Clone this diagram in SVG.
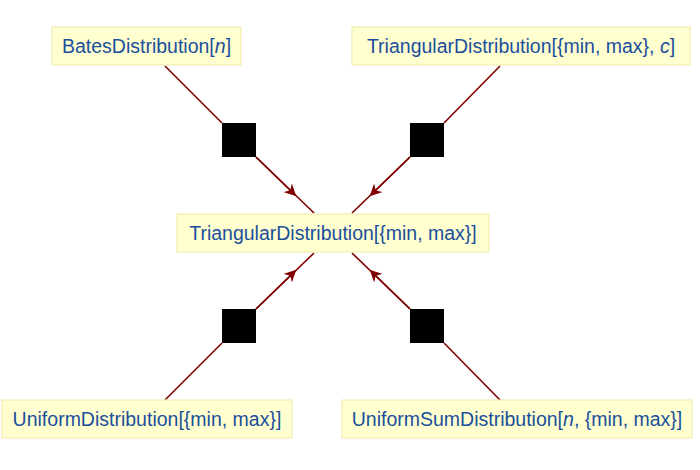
<svg xmlns="http://www.w3.org/2000/svg" width="700" height="470" viewBox="0 0 700 470">
<defs>
<style>
.box{fill:#ffffd0;stroke:#f0e8a8;stroke-width:1}
.t{font-family:"Liberation Sans",Arial,sans-serif;font-size:19.5px;fill:#1b4f9c;text-anchor:middle}
.e{stroke:#800000;stroke-width:1.6;fill:none}
.sq{fill:#000}
</style>
<marker id="a" viewBox="0 0 10 10" refX="5" refY="5" markerWidth="12" markerHeight="12" markerUnits="userSpaceOnUse" orient="auto"><path d="M0,0 L10,5 L0,10 L3,5 Z" fill="#800000"/></marker>
</defs>
<g id="edges">
<path class="e" d="M165,66 L222,123"/>
<path class="e" d="M256,157 L314,213"/>
<path class="e" d="M256,157 L292,192" marker-end="url(#a)"/>
<path class="e" d="M500,66 L444,123"/>
<path class="e" d="M410,157 L352,213"/>
<path class="e" d="M410,157 L374,192" marker-end="url(#a)"/>
<path class="e" d="M165,400 L222,343"/>
<path class="e" d="M256,309 L314,253"/>
<path class="e" d="M256,309 L292,274" marker-end="url(#a)"/>
<path class="e" d="M500,400 L444,343"/>
<path class="e" d="M410,309 L352,253"/>
<path class="e" d="M410,309 L374,274" marker-end="url(#a)"/>
<rect class="sq" x="222" y="123" width="34" height="34"/>
<rect class="sq" x="410" y="123" width="34" height="34"/>
<rect class="sq" x="222" y="309" width="34" height="34"/>
<rect class="sq" x="410" y="309" width="34" height="34"/>
</g>
<g id="bates"><rect class="box" x="52" y="27" width="189" height="38"/><text class="t" x="146.5" y="53">BatesDistribution[<tspan font-style="italic">n</tspan>]</text></g>
<g id="tri3"><rect class="box" x="352" y="27" width="338" height="38"/><text class="t" x="521" y="53">TriangularDistribution[{min, max}, <tspan font-style="italic">c</tspan>]</text></g>
<g id="tri"><rect class="box" x="177" y="214" width="312" height="38"/><text class="t" x="333" y="240">TriangularDistribution[{min, max}]</text></g>
<g id="unif"><rect class="box" x="2" y="400" width="290" height="38"/><text class="t" x="147" y="426">UniformDistribution[{min, max}]</text></g>
<g id="usum"><rect class="box" x="342" y="400" width="350" height="38"/><text class="t" x="517" y="426">UniformSumDistribution[<tspan font-style="italic">n</tspan>, {min, max}]</text></g>
</svg>
